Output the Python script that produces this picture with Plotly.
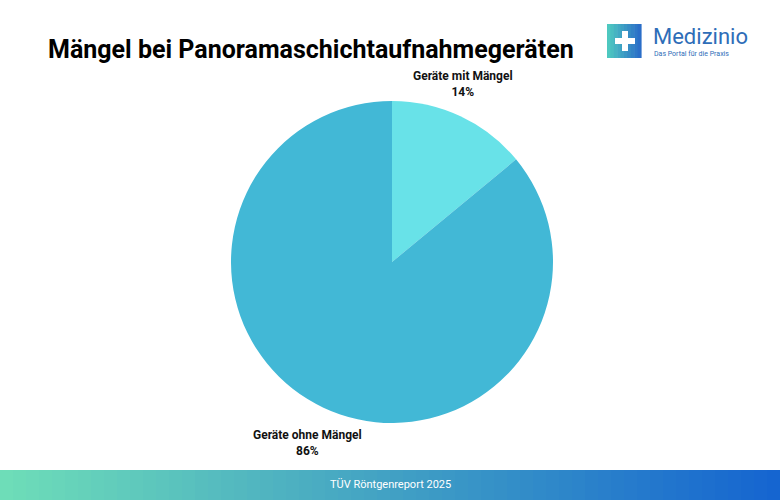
import plotly.graph_objects as go

labels = ["Geräte mit Mängel", "Geräte ohne Mängel"]
values = [14, 86]
colors = ["#68E2E8", "#42B8D6"]

W, H = 780, 500
fig = go.Figure()
fig.add_pie(
    labels=labels, values=values, sort=False, direction="clockwise", rotation=0,
    marker=dict(colors=colors, line=dict(width=0)), textinfo="none",
    hoverinfo="label+percent", showlegend=False,
    domain=dict(x=[231 / W, 553 / W], y=[77 / H, 399 / H]),
)


def note(x, y, text, size, color="#111", xanchor="center", **kw):
    fig.add_annotation(x=x / W, y=1 - y / H, xref="paper", yref="paper", xanchor=xanchor,
                       yanchor="middle", text=text, showarrow=False,
                       font=dict(size=size, color=color, family="Roboto"), **kw)


# label annotations
for (x, y), lab, v in zip([(463, 84), (307, 443)], labels, values):
    note(x, y, f"<b>{lab}</b><br><b>{v}%</b>", 12, align="center")

note(46, 50, "<b>Mängel bei Panoramaschichtaufnahmegeräten</b>", 25, "#000", "left")

# footer gradient
n = 60
c0, c1 = (0x6E, 0xDD, 0xB8), (0x15, 0x65, 0xD0)
for i in range(n):
    t = i / (n - 1)
    col = "rgb(%d,%d,%d)" % tuple(round(a + (b - a) * t) for a, b in zip(c0, c1))
    fig.add_shape(type="rect", xref="paper", yref="paper", x0=i / n, x1=(i + 1) / n + 0.002,
                  y0=0, y1=30 / H, fillcolor=col, line_width=0, layer="below")
note(390, 484, "TÜV Röntgenreport 2025", 11, "white")

# logo
for i in range(10):
    t = i / 9
    col = "rgb(%d,%d,%d)" % tuple(round(a + (b - a) * t) for a, b in zip((0x4E, 0xC8, 0xC0), (0x2A, 0x6E, 0xC8)))
    fig.add_shape(type="rect", xref="paper", yref="paper",
                  x0=(607 + i * 3.4) / W, x1=(611 + i * 3.4) / W,
                  y0=1 - 58 / H, y1=1 - 24 / H, fillcolor=col, line_width=0)
fig.add_shape(type="rect", xref="paper", yref="paper", x0=615 / W, x1=635 / W,
              y0=1 - 44 / H, y1=1 - 38 / H, fillcolor="white", line_width=0)
fig.add_shape(type="rect", xref="paper", yref="paper", x0=622 / W, x1=628 / W,
              y0=1 - 51 / H, y1=1 - 31 / H, fillcolor="white", line_width=0)
note(651, 37, "Medizinio", 22, "#2E6DB8", "left")
note(652, 54, "Das Portal für die Praxis", 7, "#2E6DB8", "left")

fig.update_layout(width=W, height=H, margin=dict(l=0, r=0, t=0, b=0),
                  paper_bgcolor="white", plot_bgcolor="white", font_family="Roboto")
fig.write_html("out.html", config={"displayModeBar": False},
               post_script="document.body.style.margin='0';")
